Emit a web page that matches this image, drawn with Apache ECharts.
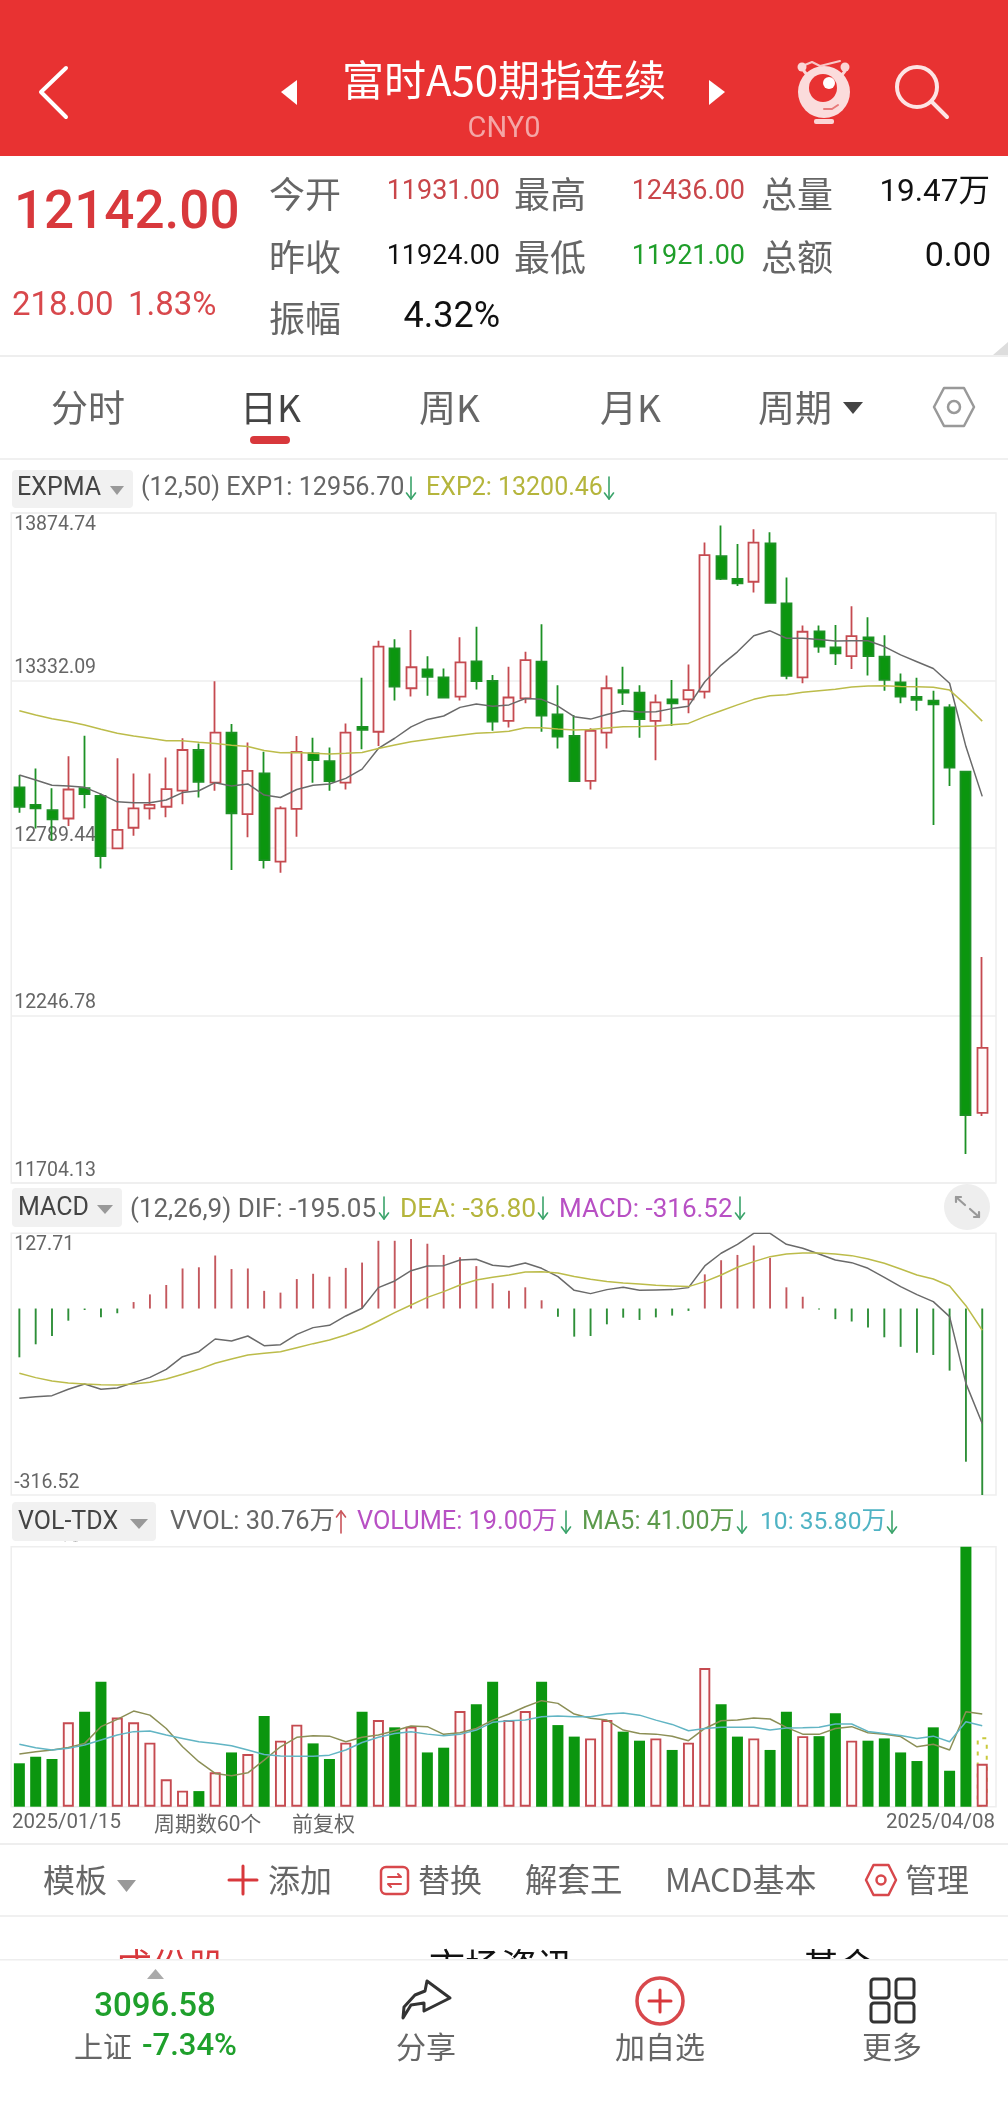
<!DOCTYPE html>
<html><head><meta charset="utf-8">
<style>html,body{margin:0;padding:0;background:#fff}#c{width:1008px;height:2113px}</style>
<script src="https://cdn.jsdelivr.net/npm/echarts@6/dist/echarts.min.js"></script>
</head><body><div id="c"></div>
<script>
const categories = ['01/15','01/16','01/17','01/20','01/21','01/22','01/23','01/24','01/27','01/28','01/29','01/30','01/31',
'02/03','02/04','02/05','02/06','02/07','02/10','02/11','02/12','02/13','02/14','02/17','02/18','02/19','02/20','02/21','02/24','02/25','02/26','02/27','02/28',
'03/03','03/04','03/05','03/06','03/07','03/10','03/11','03/12','03/13','03/14','03/17','03/18','03/19','03/20','03/21','03/24','03/25','03/26','03/27','03/28','03/31',
'04/01','04/02','04/03','04/04','04/07','04/08'].map(d=>'2025/'+d);
// open, close, low, high
const kline = [
[12986,12923,12904,13026],[12929,12918,12853,13047],[12912,12882,12813,12983],[12885,12979,12861,13087],[12983,12964,12918,13153],
[12958,12763,12723,12966],[12788,12848,12786,13080],[12855,12918,12829,13031],[12918,12929,12882,13031],[12923,12980,12889,13083],
[12975,13107,12931,13145],[13107,13004,12953,13128],[13001,13163,12975,13330],[13163,12902,12718,13191],[12899,13039,12824,13131],
[13031,12750,12723,13101],[12745,12918,12709,12925],[12916,13101,12826,13152],[13096,13074,13001,13147],[13071,13006,12975,13115],
[13001,13163,12979,13193],[13182,13172,13109,13341],[13166,13442,13120,13461],[13436,13312,13267,13466],[13307,13375,13280,13496],
[13368,13344,13283,13411],[13342,13277,13274,13371],[13280,13391,13267,13472],[13394,13330,13303,13506],[13331,13199,13169,13350],
[13201,13277,13180,13377],[13274,13398,13258,13425],[13393,13218,13166,13514],[13222,13150,13112,13317],[13153,13006,13004,13220],
[13007,13169,12979,13177],[13163,13307,13112,13348],[13301,13293,13253,13377],[13293,13207,13147,13317],[13201,13261,13074,13287],
[13271,13258,13185,13334],[13271,13301,13226,13384],[13296,13738,13274,13779],[13735,13661,13658,13834],[13661,13647,13638,13774],
[13652,13779,13617,13822],[13776,13584,13582,13812],[13582,13347,13336,13666],[13342,13490,13323,13510],[13491,13442,13422,13510],
[13439,13420,13382,13512],[13411,13476,13369,13573],[13472,13411,13348,13537],[13409,13334,13299,13479],[13326,13280,13258,13355],
[13279,13269,13234,13341],[13267,13255,12864,13299],[13245,13050,12990,13255],[13037,11924,11798,13039],[11931,12142,11921,12436]];
const exp1 = [13026,13010,12993,12990,12986,12964,12939,12936,12936,12945,12969,12975,13001,12990,12997,12961,12953,12979,12993,12997,13015,13045,13112,13145,13182,13206,13217,13245,13256,13249,13253,13274,13271,13249,13215,13207,13222,13234,13230,13231,13241,13249,13328,13382,13425,13477,13493,13469,13469,13465,13460,13461,13461,13442,13415,13393,13371,13323,13118,12956.7];
const exp2 = [13234,13220,13208,13199,13188,13174,13161,13152,13145,13137,13137,13132,13128,13122,13118,13105,13098,13099,13096,13094,13096,13099,13112,13123,13134,13141,13148,13155,13161,13164,13168,13179,13179,13175,13172,13173,13178,13182,13183,13185,13189,13193,13215,13234,13253,13271,13283,13286,13294,13299,13304,13311,13314,13315,13313,13312,13310,13301,13253,13200.46];
const macdHist = [-82.8,-60.7,-46.6,-20.6,-2.5,-15,-8,11,24,40,68,70,90,67,68,30,27,50,59,54,69,78,115,115,118,110,91,87,72,43,30,36,14,-14,-47.7,-46.6,-26.8,-15.5,-19.4,-15,-12,-4,58,82,91,107,86,36,20,-1.5,-18,-22,-32.4,-48.8,-65,-74.9,-78.8,-105.4,-260,-316.52];
const dif = [-152.4,-149.6,-147.9,-137.1,-128.1,-137.1,-134.9,-125.8,-116.8,-103.2,-81.7,-73.2,-51.7,-55.1,-46.6,-63,-61.3,-43.8,-32.4,-28.5,-12.6,0.4,35.5,46.8,64.3,72.3,72.8,82.4,83.6,73.4,71.1,77.3,68.3,54.2,30.9,25.3,32.1,36,30.9,31.5,32.1,35.5,72.3,93.8,109,127.7,127.7,109,102.2,92.6,82.4,77.9,68.3,53,37.2,23.6,11.7,-13.8,-127,-195.05];
const dea = [-110,-117.3,-123,-126.4,-128.1,-129.2,-129.8,-128.1,-125.3,-119.6,-111.7,-103.2,-93,-85.6,-78.8,-76,-73.2,-66.4,-59.6,-53.4,-44.9,-34.7,-21.1,-7,6,19,28.7,40,48.5,53,57,62,62.6,60.4,54.2,49.6,45.7,43.4,41.7,39.4,38.3,37.2,45.7,57,70,79.6,88.1,92.6,94.3,94.3,92.6,89.8,84.2,76.8,67.2,57,50.2,38.3,4.9,-36.8];
const volume = [19.2,22.1,21.1,37.3,42,55.3,39.4,37.3,28.3,12.1,7.1,6.9,15.2,24,23.3,40.1,29.2,36.3,28,21.1,28.3,42,38.3,35.1,35.4,24,26.1,42.3,45.3,55.3,38.3,42.3,55.3,36.1,31,30.2,38.3,33.2,29.2,30.2,25.1,28.3,61.3,45.3,31,30.2,25.1,42,31.2,31.2,41.3,29.2,29.2,30.2,24,20.2,35.1,15.9,115,19];
const ma5 = [23.3,24.3,25.1,26.2,28,35.4,38.6,42.3,40.5,34.6,26.5,19.9,14.7,13.7,15,20.6,26.5,30.7,31.4,31.2,28.7,30.7,31.7,33.6,35.7,35.4,32,32.7,34.6,38.3,41,44.2,46.9,45.7,41,39.1,38.3,33.9,32.4,32.1,31.2,29.2,34.6,38,38.3,39.2,38.8,35.1,32.1,32,34.6,35.4,32.7,32,31,26.5,27.6,25.1,42,41];
const ma10 = [27.6,26.1,25.1,25.8,27.3,29.5,31.7,33.2,33.5,31.7,30.2,28.7,28,27,25.1,23.1,22.4,22.3,22.3,22.8,25.1,28.4,30.7,32.4,33.2,32.1,31.4,32,33.9,37.3,38,38.3,39.8,40.1,39.8,39.8,41,41.4,40.5,38.3,36.4,33.6,34.6,35.1,35.1,35.1,33.9,34.8,34.9,35.1,36.6,36.6,33.3,32.4,31.5,30.2,31.2,28.7,37.6,35.8];
const vvolLast = 30.76;
const priceTicks = ['11704.13','12246.78','12789.44','13332.09','13874.74'];
const macdTicks = ['-316.52','127.71'];
const volTicks = ['115.0'];

const RED='#c54a50', GRN='#0b960f', FONT='Roboto,"Noto Sans CJK SC",sans-serif', CJK='"Noto Sans CJK SC",Roboto,sans-serif';
const GREY='#6a6a6a', OLIVE='#bcbc4a', AXC='#666', BORDER='#eeeeee';
const chart = echarts.init(document.getElementById('c'), null, {width:1008,height:2113});

const L=11.2, BAND=979.2, FRAMEW=984.8;
const panels=[{top:513,h:670},{top:1233.3,h:261.7},{top:1546.7,h:260}];
const grid=[]; panels.forEach(p=>{
  grid.push({left:L,top:p.top,width:FRAMEW,height:p.h,show:true,borderColor:BORDER,borderWidth:1.5,backgroundColor:'transparent'});
  grid.push({left:L,top:p.top,width:BAND,height:p.h});
});
const frameX=i=>({type:'value',gridIndex:i,min:0,max:1,show:false});
const dataX=i=>({type:'category',gridIndex:i,data:categories,show:false,boundaryGap:true});
const xAxis=[frameX(0),dataX(1),frameX(2),dataX(3),frameX(4),dataX(5)];
const frameY=(i,min,max,ticks,split,fmt)=>({type:'value',gridIndex:i,min,max,position:'left',
  axisLine:{show:false},
  axisTick:{show:false,customValues:ticks.map(Number)},
  splitLine:{show:split,lineStyle:{color:'#eeeeee',width:1.5}},
  axisLabel:{inside:true,margin:3,color:AXC,fontSize:19.5,fontFamily:FONT,align:'left',verticalAlign:'bottom',verticalAlignMaxLabel:'top',
    lineHeight:24,customValues:ticks.map(Number),formatter:fmt}});
const dataY=(i,min,max)=>({type:'value',gridIndex:i,min,max,show:false,splitLine:{show:false}});
const f2=v=>priceTicks.concat(macdTicks).find(t=>Number(t)===v)||String(v);
const yAxis=[
  frameY(0,11704.13,13874.74,priceTicks,true,f2),dataY(1,11704.13,13874.74),
  frameY(2,-316.52,127.71,macdTicks,false,f2),dataY(3,-316.52,127.71),
  frameY(4,0,115,volTicks,false,()=>volTicks[0]+'万'),dataY(5,0,115)];
const line=(name,data,color,xi,w)=>({name,type:'line',data,xAxisIndex:xi,yAxisIndex:xi,showSymbol:false,silent:true,smooth:false,
  lineStyle:{color,width:w||1.5},itemStyle:{color},z:5});
const isUp=kline.map(k=>k[1]>=k[0]);
const series=[
 {name:'K',type:'candlestick',data:kline,xAxisIndex:1,yAxisIndex:1,barWidth:10.5,
  itemStyle:{color:'#fffafa',color0:GRN,borderColor:RED,borderColor0:'#1d9125',borderWidth:1.8},z:3},
 line('EXP1',exp1,GREY,1),line('EXP2',exp2,OLIVE,1),
 {name:'MACD',type:'bar',data:macdHist,xAxisIndex:3,yAxisIndex:3,barWidth:1.9,
  itemStyle:{color:p=>p.value>=0?'#c4585e':'#2e8f38'},z:3},
 line('DIF',dif,GREY,3),line('DEA',dea,OLIVE,3),
 {name:'VVOL',type:'bar',xAxisIndex:5,yAxisIndex:5,barWidth:11,barGap:'-100%',z:2,
  data:categories.map((c,i)=>i===categories.length-1?vvolLast:null),
  itemStyle:{color:'transparent',borderColor:'#c9c93c',borderWidth:2,borderType:[4,7]}},
 {name:'VOLUME',type:'bar',xAxisIndex:5,yAxisIndex:5,barWidth:11,barGap:'-100%',z:3,
  data:volume.map((v,i)=>({value:v,itemStyle:isUp[i]?{color:'#fffafa',borderColor:RED,borderWidth:1.9}:{color:GRN}}))},
 line('MA5',ma5,'#8c8f56',5),line('MA10',ma10,'#62b5c4',5)
];

// ---------- page furniture ----------
const g=[];
const txt=(x,y,t,size,fill,align,font,weight)=>g.push({type:'text',x,y,silent:true,z:10,style:{text:t,fontSize:size,fill,align:align||'left',verticalAlign:'middle',fontFamily:font||FONT,fontWeight:weight||'normal'}});
const rect=(x,y,w,h,fill,r)=>g.push({type:'rect',silent:true,z:9,shape:{x,y,width:w,height:h,r:r||0},style:{fill}});
const tri=(pts,fill)=>g.push({type:'polygon',silent:true,z:10,shape:{points:pts},style:{fill}});
const pl=(pts,stroke,w,z)=>g.push({type:'polyline',silent:true,z:z||10,shape:{points:pts},style:{stroke,lineWidth:w,fill:'none',lineCap:'round',lineJoin:'round'}});
const circ=(cx,cy,r,fill,stroke,w)=>g.push({type:'circle',silent:true,z:10,shape:{cx,cy,r},style:{fill:fill||'none',stroke:stroke||'none',lineWidth:w||0}});
const hex=(cx,cy,rx,ry,c,w,ir)=>{g.push({type:'polygon',silent:true,z:10,shape:{points:[[cx-rx,cy],[cx-rx/2,cy-ry],[cx+rx/2,cy-ry],[cx+rx,cy],[cx+rx/2,cy+ry],[cx-rx/2,cy+ry]]},style:{fill:'none',stroke:c,lineWidth:w,lineJoin:'round'}});circ(cx,cy,ir,null,c,w);};
const arrow=(x,yc,c,up)=>{const h=11,s=up?-1:1;pl([[x,yc-s*h],[x,yc+s*h]],c,1.6);pl([[x-4.5,yc+s*(h-6)],[x,yc+s*h],[x+4.5,yc+s*(h-6)]],c,1.6);};

// header
rect(0,0,1008,156,'#e83232');
pl([[66,68],[41,92],[66,117]],'#fff',4);
tri([[297,80],[297,105],[281,92]],'#fff');tri([[709,80],[709,105],[725,92]],'#fff');
txt(504,80,'富时A50期指连续',42,'#fff','center',CJK);
txt(504,130,'CNY0',29,'#f4a6a6','center');
// eye icon
pl([[800,67],[812,62],[820,66],[832,63],[840,61]],'#f8c8c8',2);
pl([[804,71],[811,80]],'#fbd6d6',3);pl([[845,71],[838,80]],'#fbd6d6',3);
circ(802,67,4.5,'#fbd6d6');circ(845,67,4.5,'#fbd6d6');
circ(824,92,26,'#fbdcdc');circ(823,88,14,'#e83232');circ(829,83,6,'#fff');
pl([[824,109],[832,109],[838,105]],'#e87a7a',2);
g.push({type:'rect',silent:true,z:10,shape:{x:814,y:119,width:20,height:5,r:2},style:{fill:'#fbd6d6'}});
circ(917,87,20,null,'#fde4e4',4);pl([[932,102],[947,117]],'#fde4e4',4);

// quote block
txt(14,215,'12142.00',53,'#d8383c','left',FONT,500);
txt(12,307,'218.00',33,'#d8484c');
txt(128,307,'1.83%',33,'#d8484c');
[['今开',269,194],['昨收',269,257],['振幅',269,318],['最高',514,194],['最低',514,257],['总量',761,194],['总额',761,257]]
 .forEach(a=>txt(a[1],a[2],a[0],36,'#666','left',CJK));
txt(500,192,'11931.00',27,'#c9464a','right');
txt(500,257,'11924.00',27,'#111','right');
txt(745,192,'12436.00',27,'#c9464a','right');
txt(745,257,'11921.00',27,'#1f9e2a','right');
txt(990,193,'19.47万',31.5,'#111','right');
txt(991,257,'0.00',34,'#111','right');
txt(500,318,'4.32%',36,'#111','right');
rect(0,355,1008,2,'#eeeeee');
tri([[1008,342],[993,355],[1008,355]],'#dddddd');

// period tabs
txt(51,408,'分时',37,'#666','left',CJK);
txt(240,408,'日K',37,'#444','left',CJK);
txt(419,408,'周K',37,'#666','left',CJK);
txt(600,408,'月K',37,'#666','left',CJK);
txt(758,408,'周期',37,'#666','left',CJK);
tri([[843,402],[863,402],[853,414]],'#444');
hex(954,407,20,19,'#999',2.5,6);
rect(250,436,40,8,'#d8383c',4);
rect(0,458,1008,2,'#f0f0f0');

// indicator headers
rect(12,470,121,38,'#f1f1f1',4);
txt(17,489,'EXPMA',25,'#444');tri([[110,486],[124,486],[117,495]],'#999');
txt(141,489,'(12,50) EXP1: 12956.70',25.2,'#666');arrow(411,488,'#3aa36a');
txt(426,489,'EXP2: 13200.46',25,'#b5b53c');arrow(609,488,'#3aa36a');

rect(12,1188,110,39,'#f1f1f1',4);
txt(18,1209,'MACD',25,'#444');tri([[97,1205],[113,1205],[105,1214]],'#999');
txt(130,1210,'(12,26,9) DIF: -195.05',26,'#666');arrow(384,1208,'#3aa36a');
txt(400,1210,'DEA: -36.80',26.4,'#b5b53c');arrow(543,1208,'#3aa36a');
txt(559,1210,'MACD: -316.52',26,'#b850c4');arrow(740,1208,'#3aa36a');
circ(967,1207,23,'#eeeeee');
pl([[956,1202],[956,1197],[961,1197]],'#999',2.2);pl([[956,1197],[965,1205]],'#999',2.2);
pl([[979,1212],[979,1217],[974,1217]],'#999',2.2);pl([[979,1217],[970,1209]],'#999',2.2);

rect(12,1502,144,39,'#f1f1f1',4);
txt(18,1523,'VOL-TDX',25,'#444');tri([[130,1519],[148,1519],[139,1529]],'#999');
txt(170,1523,'VVOL: 30.76万',25.4,'#666');arrow(341,1522,'#c9545a',true);
txt(357,1523,'VOLUME: 19.00万',25.3,'#b850c4');arrow(566,1522,'#3aa36a');
txt(582,1523,'MA5: 41.00万',25,'#5c9a4c');arrow(742,1522,'#3aa36a');
txt(760,1523,'10: 35.80万',24.6,'#4fb3c4');arrow(892,1522,'#3aa36a');

txt(12,1823,categories[0],20.5,'#666');
txt(154,1823,'周期数60个',21,'#666','left',CJK);
txt(292,1823,'前复权',21,'#666','left',CJK);
txt(995,1823,categories[categories.length-1],20.5,'#666','right');
rect(0,1843,1008,2,'#eeeeee');

// toolbar
txt(43,1880,'模板',32,'#666','left',CJK);tri([[117,1880],[136,1880],[126.5,1892]],'#999');
pl([[243,1866],[243,1894]],'#d8383c',3);pl([[229,1880],[257,1880]],'#d8383c',3);
txt(268,1880,'添加',32,'#666','left',CJK);
g.push({type:'rect',silent:true,z:10,shape:{x:381,y:1867,width:27,height:27,r:5},style:{fill:'none',stroke:'#d8484c',lineWidth:2.5}});
pl([[388,1877],[401,1877],[398,1874]],'#d8484c',2);pl([[401,1884],[388,1884],[391,1887]],'#d8484c',2);
txt(418,1880,'替换',32,'#666','left',CJK);
txt(525,1880,'解套王',32.5,'#666','left',CJK);
txt(665,1880,'MACD基本',32,'#666','left',CJK);
hex(881,1880,15,15,'#d8484c',2.5,4.5);
txt(905,1880,'管理',32,'#666','left',CJK);
rect(0,1915,1008,2,'#f0f0f0');

// clipped tabs under the footer
txt(170,1966,'成份股',36.5,'#d8383c','center',CJK);
txt(501,1966,'市场资讯',36,'#111','center',CJK);
txt(839,1966,'基金',36,'#111','center',CJK);
g.push({type:'rect',silent:true,z:11,shape:{x:0,y:1960,width:1008,height:153},style:{fill:'#fff'}});
g.push({type:'rect',silent:true,z:11,shape:{x:0,y:1959,width:1008,height:1.5},style:{fill:'#eeeeee'}});

// footer
const Z=12, mark=g.length;
tri([[147,1979],[164,1979],[155.5,1969]],'#aaa');
txt(155,2008,'3096.58',33,'#1fa02c','center',FONT,500);
txt(74,2047,'上证',29,'#666','left',CJK);
txt(142,2047,'-7.34%',31,'#1fa02c','left',FONT,500);
g.push({type:'polygon',silent:true,z:10,shape:{points:[[427,1981],[450,1998],[424,2011],[424,2003],[411,2005],[403,2018],[404,2007],[415,1995],[425,1991]]},style:{fill:'none',stroke:'#333',lineWidth:3,lineJoin:'round'}});
txt(426,2047,'分享',30,'#666','center',CJK);
circ(660,2001,23,null,'#d8484c',3.5);
pl([[660,1990],[660,2012]],'#d8383c',3);pl([[649,2001],[671,2001]],'#d8383c',3);
txt(660,2047,'加自选',30,'#666','center',CJK);
[[870,1978],[895,1978],[870,2002],[895,2002]].forEach(p=>g.push({type:'rect',silent:true,z:10,shape:{x:p[0]+1,y:p[1]+1,width:18,height:19,r:3},style:{fill:'none',stroke:'#333',lineWidth:3}}));
txt(892,2047,'更多',30,'#666','center',CJK);
for(let i=mark;i<g.length;i++)g[i].z=Z;

chart.setOption({animation:false,backgroundColor:'#fff',textStyle:{fontFamily:FONT},grid,xAxis,yAxis,series,graphic:{elements:g}});
</script></body></html>
